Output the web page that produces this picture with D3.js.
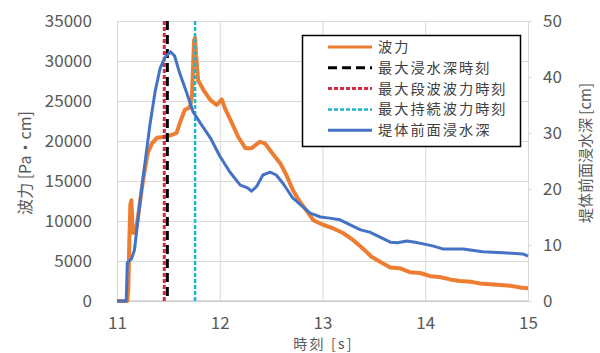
<!DOCTYPE html>
<html>
<head>
<meta charset="utf-8">
<script src="https://cdn.jsdelivr.net/npm/d3@7"></script>
<style>
  body { margin: 0; background: #fff; }
  svg { display: block; }
  text { font-family: "Noto Sans CJK JP", "Noto Sans", sans-serif; }
</style>
</head>
<body>
<svg id="chart" width="600" height="353"></svg>
<script>
// Wave force on the structure [Pa·cm] over time [s]
const forceTime = [11.00, 11.10, 11.11, 11.12, 11.13, 11.14, 11.15, 11.16, 11.18, 11.20, 11.24, 11.27, 11.30, 11.34, 11.39, 11.45, 11.52, 11.58, 11.61, 11.66, 11.71, 11.73, 11.75, 11.76, 11.77, 11.79, 11.84, 11.91, 11.97, 12.02, 12.05, 12.12, 12.18, 12.25, 12.31, 12.39, 12.44, 12.51, 12.59, 12.65, 12.71, 12.78, 12.85, 12.91, 13.01, 13.10, 13.20, 13.30, 13.39, 13.48, 13.56, 13.66, 13.75, 13.85, 13.95, 14.05, 14.14, 14.24, 14.34, 14.44, 14.53, 14.63, 14.73, 14.83, 14.92, 15.00];
const forceValue = [0, 0, 1400, 7600, 12000, 12600, 9500, 8500, 8600, 10100, 13900, 16400, 18500, 19700, 20400, 20500, 20700, 21000, 22200, 23900, 24200, 25700, 32600, 32900, 30700, 27600, 26400, 25100, 24500, 25200, 24100, 22200, 20500, 19100, 19100, 19900, 19700, 18500, 17200, 15700, 13900, 12400, 11200, 10100, 9500, 9100, 8500, 7600, 6600, 5500, 4900, 4200, 4100, 3600, 3500, 3100, 3000, 2700, 2500, 2400, 2200, 2100, 2000, 1900, 1700, 1600];

// Inundation depth in front of the structure [cm]
const depthTime = [11.00, 11.09, 11.10, 11.14, 11.17, 11.22, 11.27, 11.32, 11.37, 11.42, 11.47, 11.52, 11.56, 11.61, 11.68, 11.74, 11.81, 11.91, 12.00, 12.10, 12.20, 12.27, 12.31, 12.36, 12.42, 12.49, 12.55, 12.62, 12.71, 12.81, 12.88, 12.98, 13.07, 13.17, 13.27, 13.37, 13.46, 13.56, 13.66, 13.73, 13.82, 13.90, 13.98, 14.08, 14.17, 14.37, 14.56, 14.76, 14.95, 15.00];
const depthValue = [0, 0, 6.8, 7.5, 9.1, 17.1, 24.3, 31.4, 37.3, 41.6, 43.6, 44.5, 43.8, 40.7, 37.1, 33.8, 31.8, 29.1, 25.9, 23.0, 20.7, 20.2, 19.6, 20.5, 22.5, 23.0, 22.5, 20.9, 18.4, 16.8, 15.7, 15.0, 14.8, 14.5, 13.6, 12.7, 12.3, 11.4, 10.5, 10.4, 10.7, 10.5, 10.2, 9.8, 9.3, 9.3, 8.8, 8.6, 8.4, 8.0];

// Event times marked by vertical lines [s]
const markerNames = ["最大浸水深時刻", "最大段波波力時刻", "最大持続波力時刻"];
const markerTimes = [11.49, 11.46, 11.76];

const xTicks = [11, 12, 13, 14, 15];
const forceTicks = [0, 5000, 10000, 15000, 20000, 25000, 30000, 35000];
const depthTicks = [0, 10, 20, 30, 40, 50];

const legendLabels = ["波力", "最大浸水深時刻", "最大段波波力時刻", "最大持続波力時刻", "堤体前面浸水深"];

const svg = d3.select("#chart");
const plot = { left: 117, right: 528, top: 21, bottom: 301 };

const x = d3.scaleLinear().domain([11, 15]).range([plot.left, plot.right]);
const yF = d3.scaleLinear().domain([0, 35000]).range([plot.bottom, plot.top]);
const yD = d3.scaleLinear().domain([0, 50]).range([plot.bottom, plot.top]);

const tickColor = "#595959";
const gridColor = "#d9d9d9";
const numFont = "\"Liberation Sans\", Arial, sans-serif";

// gridlines
svg.append("g")
  .attr("transform", `translate(${plot.left},0)`)
  .call(d3.axisLeft(yF).tickValues(forceTicks).tickSize(-(plot.right - plot.left)).tickFormat(""))
  .call(g => g.select(".domain").remove())
  .call(g => g.selectAll("line").attr("stroke", gridColor).attr("stroke-width", 1));

svg.append("g")
  .attr("transform", `translate(0,${plot.bottom})`)
  .call(d3.axisBottom(x).tickValues(xTicks).tickSize(-(plot.bottom - plot.top)).tickFormat(""))
  .call(g => g.select(".domain").remove())
  .call(g => g.selectAll("line").attr("stroke", gridColor).attr("stroke-width", 1));

// bottom axis line
svg.append("line")
  .attr("x1", plot.left).attr("x2", plot.right)
  .attr("y1", plot.bottom).attr("y2", plot.bottom)
  .attr("stroke", "#bfbfbf").attr("stroke-width", 1.2);

// tick labels
svg.append("g")
  .attr("transform", `translate(${plot.left - 25},0)`)
  .call(d3.axisLeft(yF).tickValues(forceTicks).tickSize(0).tickPadding(0).tickFormat(d3.format("d")))
  .call(g => g.select(".domain").remove())
  .call(g => g.selectAll("text")
    .attr("x", 0)
    .attr("text-anchor", "end")
    .attr("fill", tickColor).attr("font-size", 17)
    .attr("font-family", numFont));

svg.append("g")
  .attr("transform", `translate(${plot.right},0)`)
  .call(d3.axisRight(yD).tickValues(depthTicks).tickSize(4).tickPadding(11))
  .call(g => g.select(".domain").remove())
  .call(g => g.selectAll("line").attr("stroke", gridColor))
  .call(g => g.selectAll("text").attr("fill", tickColor).attr("font-size", 17)
    .attr("font-family", numFont));

svg.append("g")
  .attr("transform", `translate(0,${plot.bottom})`)
  .call(d3.axisBottom(x).tickValues(xTicks).tickSize(0).tickPadding(15.5).tickFormat(d3.format("d")))
  .call(g => g.select(".domain").remove())
  .call(g => g.selectAll("text").attr("fill", tickColor).attr("font-size", 17)
    .attr("font-family", numFont));

// axis titles
svg.append("text")
  .attr("transform", `translate(31,${(plot.top + plot.bottom) / 2 + 2}) rotate(-90)`)
  .attr("text-anchor", "middle")
  .attr("fill", tickColor).attr("font-size", 16)
  .text("波力 [Pa・cm]");

svg.append("text")
  .attr("transform", `translate(591,${(plot.top + plot.bottom) / 2 - 8}) rotate(-90)`)
  .attr("text-anchor", "middle")
  .attr("fill", tickColor).attr("font-size", 15)
  .text("堤体前面浸水深 [cm]");

svg.append("text")
  .attr("x", (plot.left + plot.right) / 2 + 1)
  .attr("y", 348.7)
  .attr("text-anchor", "middle")
  .attr("fill", tickColor).attr("font-size", 14)
  .attr("letter-spacing", 2.2)
  .text("時刻 [s]");

// series
const forceColor = "#ED7D31";
const depthColor = "#4472C4";
const markerStyles = [
  { color: "#000000", dash: "9,5", width: 3 },
  { color: "#D42A45", dash: "4,2", width: 3 },
  { color: "#21B5D4", dash: "4,2", width: 2.5 }
];

const forceLine = d3.line().x((d, i) => x(forceTime[i])).y(d => yF(d));
svg.append("path")
  .datum(forceValue)
  .attr("fill", "none")
  .attr("stroke", forceColor)
  .attr("stroke-width", 4)
  .attr("stroke-linejoin", "round")
  .attr("d", forceLine);

// draw the depth-time marker above the bore-force marker
const markerOrder = [1, 2, 0];
svg.append("g").selectAll("line")
  .data(markerOrder)
  .join("line")
  .attr("x1", i => x(markerTimes[i])).attr("x2", i => x(markerTimes[i]))
  .attr("y1", yF(35000)).attr("y2", yF(0))
  .attr("stroke", i => markerStyles[i].color)
  .attr("stroke-width", i => markerStyles[i].width)
  .attr("stroke-dasharray", i => markerStyles[i].dash);

const depthLine = d3.line().x((d, i) => x(depthTime[i])).y(d => yD(d));
svg.append("path")
  .datum(depthValue)
  .attr("fill", "none")
  .attr("stroke", depthColor)
  .attr("stroke-width", 3)
  .attr("stroke-linejoin", "round")
  .attr("d", depthLine);

// legend
const legend = svg.append("g");
legend.append("rect")
  .attr("x", 302.5).attr("y", 35.5)
  .attr("width", 218).attr("height", 111)
  .attr("fill", "#fff")
  .attr("stroke", "#000").attr("stroke-width", 1.5);

const legendStyles = [
  { color: forceColor, dash: null, width: 3 },
  markerStyles[0],
  markerStyles[1],
  markerStyles[2],
  { color: depthColor, dash: null, width: 3 }
];

const rows = legend.selectAll("g.row")
  .data(legendLabels)
  .join("g")
  .attr("class", "row")
  .attr("transform", (d, i) => `translate(0,${47 + i * 20.8})`);

rows.append("line")
  .attr("x1", 328).attr("x2", 372)
  .attr("stroke", (d, i) => legendStyles[i].color)
  .attr("stroke-width", (d, i) => legendStyles[i].width)
  .attr("stroke-dasharray", (d, i) => legendStyles[i].dash);

rows.append("text")
  .attr("x", 378)
  .attr("dy", "0.35em")
  .attr("fill", "#404040")
  .attr("font-size", 14.2)
  .attr("letter-spacing", 2)
  .text(d => d);
</script>
</body>
</html>
